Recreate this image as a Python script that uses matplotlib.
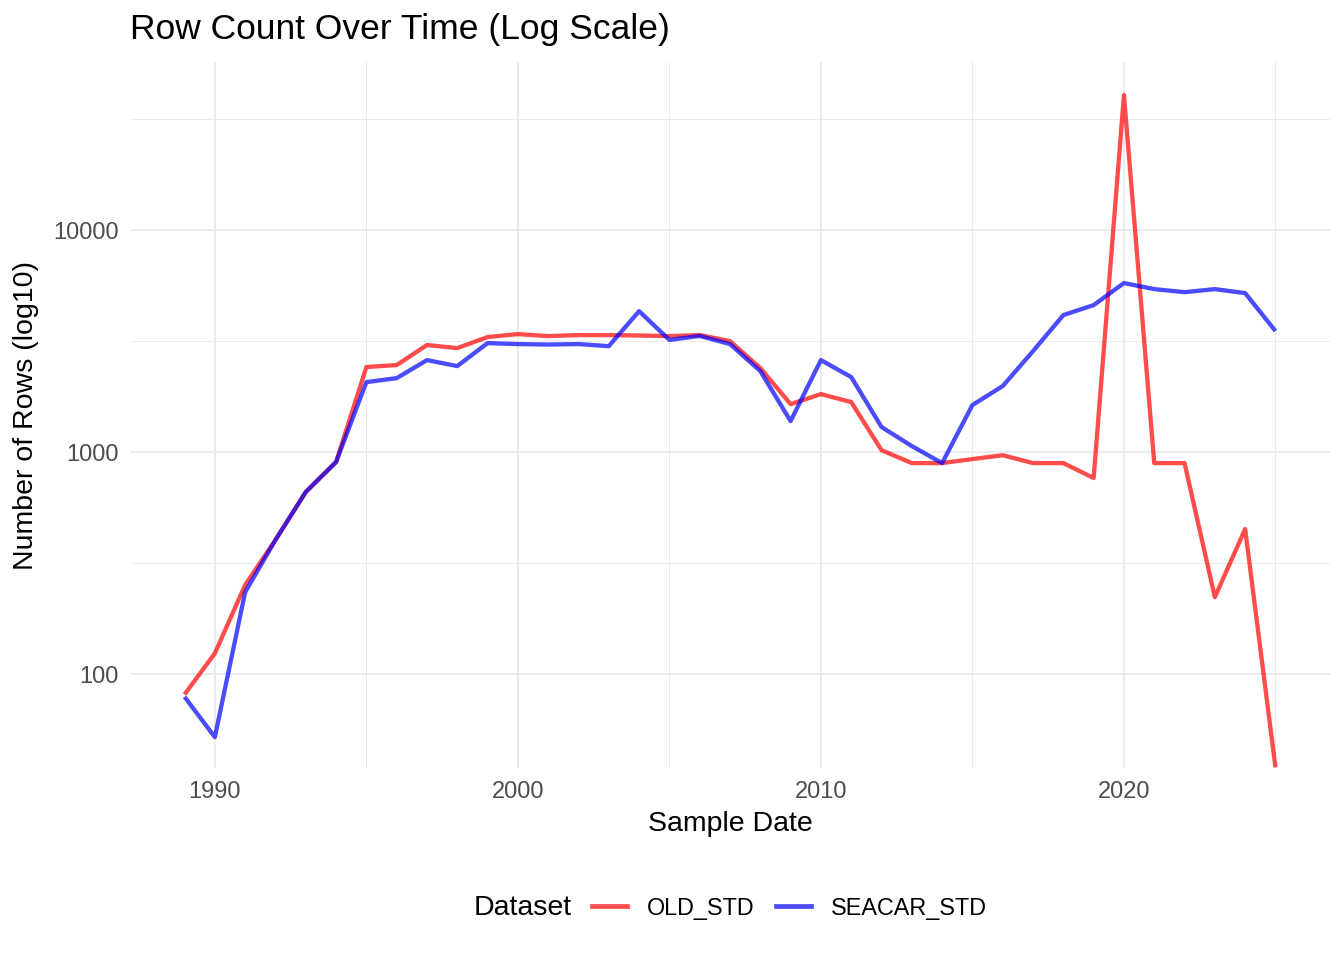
import matplotlib
matplotlib.use("Agg")
import matplotlib.pyplot as plt
from matplotlib.ticker import FixedLocator, FixedFormatter
from matplotlib.lines import Line2D

plt.rcParams['font.family'] = ['Liberation Sans', 'DejaVu Sans']

years = list(range(1989, 2026))
old_std = [81, 124, 252, 402, 661, 902, 2415, 2466, 3035, 2940,
           3297, 3400, 3330, 3365, 3365, 3350, 3330, 3365, 3160, 2390,
           1644, 1824, 1680, 1020, 892, 892, 930, 968, 892, 892,
           764, 40540, 892, 892, 222, 450, 38]
seacar_std = [79, 52, 234, 402, 661, 902, 2066, 2153, 2596, 2440,
              3096, 3065, 3050, 3065, 3000, 4313, 3200, 3336, 3065, 2316,
              1379, 2596, 2177, 1297, 1064, 892, 1629, 1983, 2850, 4140,
              4592, 5770, 5420, 5250, 5420, 5200, 3510]

series_names = ["OLD_STD", "SEACAR_STD"]
series_colors = ["#FF4D4D", "#4D4DFF"]

fig = plt.figure(figsize=(13.44, 9.6), dpi=100)
ax = fig.add_axes([130/1344, 0.2, 1200/1344, (768-62)/960])

ax.plot(years, old_std, color="#FF0000", alpha=0.7, lw=3.1, solid_capstyle="butt", zorder=3)
ax.plot(years, seacar_std, color="#0000FF", alpha=0.7, lw=3.1, solid_capstyle="butt", zorder=3)

ax.set_yscale("log")
ax.set_ylim(10**1.577, 10**4.757)
ax.set_xlim(1987.2, 2026.8)

ax.yaxis.set_major_locator(FixedLocator([100, 1000, 10000]))
ax.yaxis.set_major_formatter(FixedFormatter(["100", "1000", "10000"]))
ax.yaxis.set_minor_locator(FixedLocator([10**2.5, 10**3.5, 10**4.5]))
ax.yaxis.set_minor_formatter(FixedFormatter(["", "", ""]))
ax.xaxis.set_major_locator(FixedLocator([1990, 2000, 2010, 2020]))
ax.xaxis.set_minor_locator(FixedLocator([1995, 2005, 2015, 2025]))

ax.grid(which="major", color="#EBEBEB", lw=1.4)
ax.grid(which="minor", color="#EBEBEB", lw=0.7)
ax.set_axisbelow(True)
for s in ax.spines.values():
    s.set_visible(False)
ax.tick_params(which="both", length=0, labelsize=17, labelcolor="#4D4D4D")
ax.tick_params(axis="x", pad=9)
ax.tick_params(axis="y", pad=8)

ax.set_xlabel("Sample Date", fontsize=20.5, labelpad=6)
ax.set_ylabel("Number of Rows (log10)", fontsize=20.5, labelpad=10)
fig.text(130/1344, 1 - 29/960, "Row Count Over Time (Log Scale)", fontsize=25.5,
         ha="left", va="center")

# legend at bottom with title on the left
fig.text(474/1344, 1 - 908/960, "Dataset", fontsize=20.5, ha="left", va="center")
handles = [Line2D([], [], color=c, lw=3.4) for c in series_colors]
fig.legend(handles, series_names, loc="center left", bbox_to_anchor=(592/1344, 1 - 908/960),
           ncol=2, frameon=False, fontsize=16.8, handlelength=1.5, handletextpad=0.85,
           columnspacing=0.92, borderpad=0, borderaxespad=0)

fig.savefig("out.png", dpi=100)
